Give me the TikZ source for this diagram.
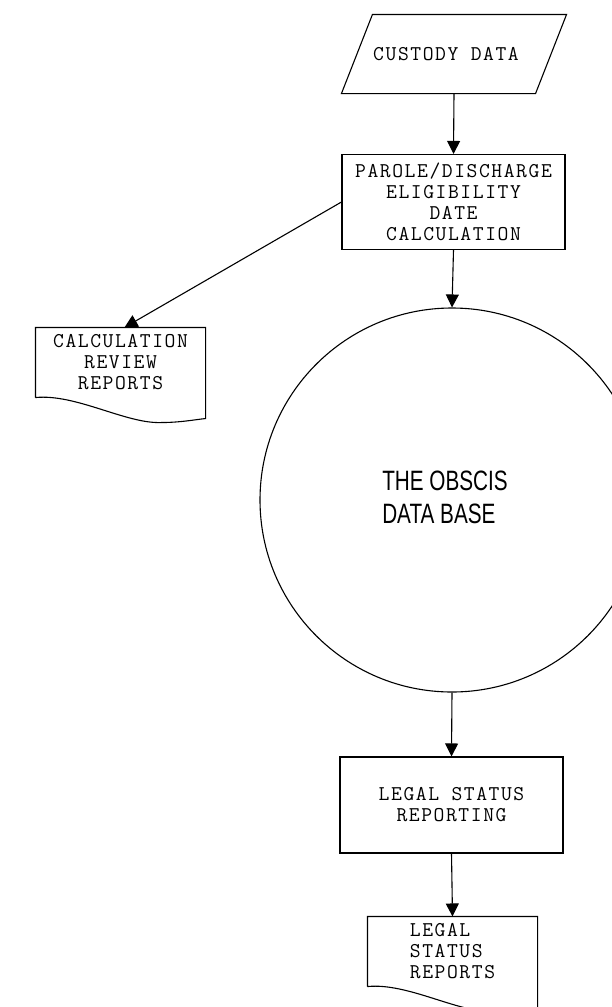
\documentclass[tikz,border=0pt]{standalone}
\usepackage{fontspec}
\setmonofont{Latin Modern Mono}[LetterSpace=7.5]
\newfontfamily\dbfont{Liberation Sans}
\usetikzlibrary{arrows.meta,calc}
\newcommand\drawdocfrm[1]{%
  \draw (#1.south west) -- (#1.north west) -- (#1.north east) -- ($(#1.south east)+(0,21)$)
    .. controls ($(#1.south west)+(160,22)$) and ($(#1.south west)+(145,25)$) .. ($(#1.south west)+(125,25)$)
    .. controls ($(#1.south west)+(90,26)$) and ($(#1.south west)+(40,-4)$) .. (#1.south west);}
\begin{document}
\begin{tikzpicture}[x=1pt,y=-1pt,line width=1.1pt,
  every node/.style={inner sep=0pt},
  conn/.style={line width=1.1pt,-{Triangle[width=13pt,length=13pt]}},
  mono/.style={font=\ttfamily\fontsize{21}{21}\selectfont},
  procbox/.style={draw,rectangle,minimum width=223pt,minimum height=95pt,align=center,mono},
  docbox/.style={rectangle,minimum width=169pt,minimum height=69pt,mono},
  iobox/.style={rectangle,minimum width=193pt,minimum height=78pt,mono}]
\useasboundingbox (0,0) rectangle (612,1007);
\fill[white] (0,0) rectangle (612,1007);
\clip (0,0) rectangle (612,1007);

\node[iobox] (cust) at (454,54) {CUSTODY DATA\hspace*{16pt}};
\draw ($(cust.north west)+(15.5,0)$) -- ($(cust.north east)+(15.5,0)$) -- ($(cust.south east)+(-15.5,0)$) -- ($(cust.south west)+(-15.5,0)$) -- cycle;

\node[procbox] (parole) at (453.5,202) {PAROLE/DISCHARGE\\ELIGIBILITY\\DATE\\CALCULATION};

\node[docbox,align=center] (calc) at (120.5,362.5) {CALCULATION\\REVIEW\\REPORTS};
\drawdocfrm{calc}

\node[draw,circle,minimum size=384pt] (db) at (452,500)
  {\hspace*{-14pt}\scalebox{0.74}[1]{\dbfont\fontsize{28}{33}\selectfont\begin{tabular}{@{}l@{}}THE OBSCIS\\DATA BASE\end{tabular}}};

\node[procbox,minimum height=96pt] (legal) at (451.5,805) {LEGAL STATUS\\REPORTING};

\node[docbox,align=left] (legrep) at (452.5,951.5) {LEGAL\\STATUS\\REPORTS};
\drawdocfrm{legrep}

\draw[conn] (cust.south) -- (parole.north);
\draw[conn] (parole.south) -- (db.north);
\draw[conn] (parole.west) -- ($(calc.north)+(4,0)$);
\draw[conn] (db.south) -- (legal.north);
\draw[conn] (legal.south) -- (legrep.north);
\end{tikzpicture}
\end{document}
